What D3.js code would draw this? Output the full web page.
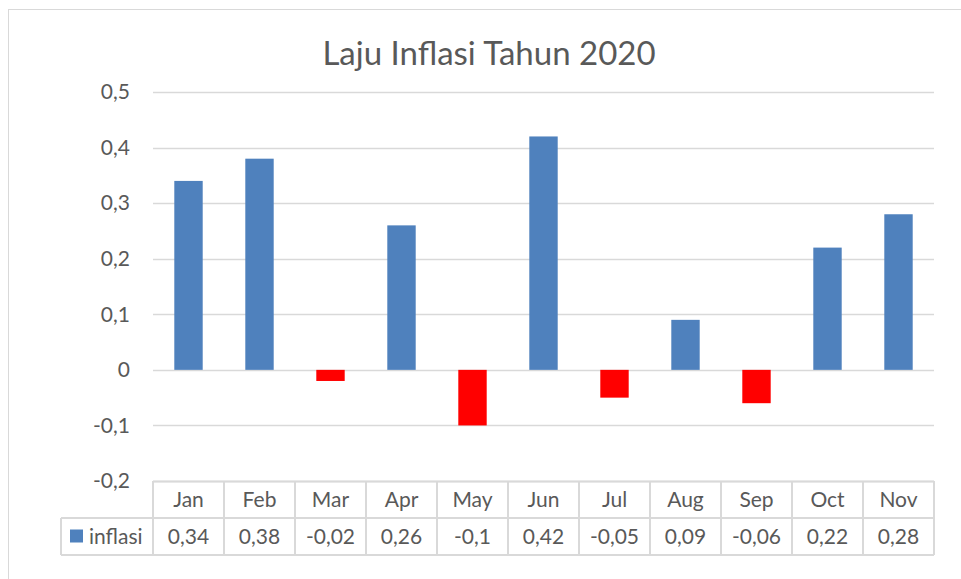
<!DOCTYPE html>
<html>
<head>
<meta charset="utf-8">
<script src="https://cdn.jsdelivr.net/npm/d3@7"></script>
<style>
  body { margin: 0; background: #fff; }
  text { font-family: Lato, "Open Sans", sans-serif; fill: #595959; }
</style>
</head>
<body>
<div id="chart"></div>
<script>
// chart data
const months = ["Jan", "Feb", "Mar", "Apr", "May", "Jun", "Jul", "Aug", "Sep", "Oct", "Nov"];
const inflasi = [0.34, 0.38, -0.02, 0.26, -0.1, 0.42, -0.05, 0.09, -0.06, 0.22, 0.28];
const yTicks = [0.5, 0.4, 0.3, 0.2, 0.1, 0, -0.1, -0.2];
const seriesName = "inflasi";
const title = "Laju Inflasi Tahun 2020";

const W = 961, H = 579;
const margin = {top: 92, right: 27, bottom: 98, left: 153};
const width = W - margin.left - margin.right;
const height = H - margin.top - margin.bottom;

// Indonesian decimal comma, plain hyphen as minus
const locale = d3.formatLocale({decimal: ",", thousands: ".", grouping: [3], currency: ["Rp", ""], minus: "-"});
const fmt = v => v === 0 ? "0" : locale.format("")(v);

const svg = d3.select("#chart").append("svg")
  .attr("width", W)
  .attr("height", H);

// chart frame
svg.append("rect")
  .attr("x", 8.5).attr("y", 9.5)
  .attr("width", W + 20).attr("height", H + 20)
  .attr("fill", "none")
  .attr("stroke", "#d9d9d9")
  .attr("stroke-width", 1);

svg.append("text")
  .attr("x", 489).attr("y", 65)
  .attr("text-anchor", "middle")
  .style("font-size", "33px")
  .text(title);

const g = svg.append("g")
  .attr("transform", `translate(${margin.left},${margin.top})`);

const x = d3.scaleBand().domain(months).range([0, width]).paddingInner(0.6).paddingOuter(0.3);
const y = d3.scaleLinear().domain([-0.2, 0.5]).range([height, 0]);

// gridlines
g.append("g")
  .selectAll("line")
  .data(yTicks)
  .join("line")
  .attr("x1", 0).attr("x2", width)
  .attr("y1", d => Math.round(y(d)) + 0.5)
  .attr("y2", d => Math.round(y(d)) + 0.5)
  .attr("stroke", "#d9d9d9")
  .attr("stroke-width", 1.5);

// y axis labels
g.append("g")
  .selectAll("text")
  .data(yTicks)
  .join("text")
  .attr("x", -23)
  .attr("y", d => y(d))
  .attr("dy", "0.35em")
  .attr("text-anchor", "end")
  .style("font-size", "21px")
  .text(fmt);

// bars
g.append("g")
  .selectAll("rect")
  .data(months)
  .join("rect")
  .attr("x", d => x(d))
  .attr("width", x.bandwidth())
  .attr("y", (d, i) => y(Math.max(0, inflasi[i])))
  .attr("height", (d, i) => Math.abs(y(inflasi[i]) - y(0)))
  .attr("fill", (d, i) => inflasi[i] < 0 ? "#ff0000" : "#4f81bd");

// data table
const step = width / months.length;
const rowH = 37;
const tTop = height;
const tbl = g.append("g").attr("class", "table");
const lineColor = "#d9d9d9";

// horizontal lines
tbl.append("line")
  .attr("x1", 0).attr("x2", width).attr("y1", tTop + 0.5).attr("y2", tTop + 0.5)
  .attr("stroke", lineColor).attr("stroke-width", 2);
tbl.append("line")
  .attr("x1", -92).attr("x2", width).attr("y1", tTop + rowH).attr("y2", tTop + rowH)
  .attr("stroke", lineColor).attr("stroke-width", 2);
tbl.append("line")
  .attr("x1", -92).attr("x2", width).attr("y1", tTop + 2 * rowH).attr("y2", tTop + 2 * rowH)
  .attr("stroke", lineColor).attr("stroke-width", 2);
// vertical lines
tbl.selectAll("line.v")
  .data(d3.range(months.length + 1))
  .join("line")
  .attr("class", "v")
  .attr("x1", i => i * step).attr("x2", i => i * step)
  .attr("y1", tTop).attr("y2", tTop + 2 * rowH)
  .attr("stroke", lineColor).attr("stroke-width", 2);
tbl.append("line")
  .attr("x1", -92).attr("x2", -92).attr("y1", tTop + rowH).attr("y2", tTop + 2 * rowH)
  .attr("stroke", lineColor).attr("stroke-width", 2);

// header row
tbl.selectAll("text.m")
  .data(months)
  .join("text")
  .attr("class", "m")
  .attr("x", (d, i) => (i + 0.5) * step)
  .attr("y", tTop + rowH / 2)
  .attr("dy", "0.35em")
  .attr("text-anchor", "middle")
  .style("font-size", "21px")
  .text(d => d);

// value row
tbl.selectAll("text.v")
  .data(inflasi)
  .join("text")
  .attr("class", "v")
  .attr("x", (d, i) => (i + 0.5) * step)
  .attr("y", tTop + rowH * 1.5)
  .attr("dy", "0.35em")
  .attr("text-anchor", "middle")
  .style("font-size", "21px")
  .text(fmt);

// legend key
tbl.append("rect")
  .attr("x", -83).attr("y", tTop + rowH * 1.5 - 7)
  .attr("width", 13).attr("height", 13)
  .attr("fill", "#4f81bd");
tbl.append("text")
  .attr("x", -64)
  .attr("y", tTop + rowH * 1.5)
  .attr("dy", "0.35em")
  .style("font-size", "21px")
  .text(seriesName);
</script>
</body>
</html>
